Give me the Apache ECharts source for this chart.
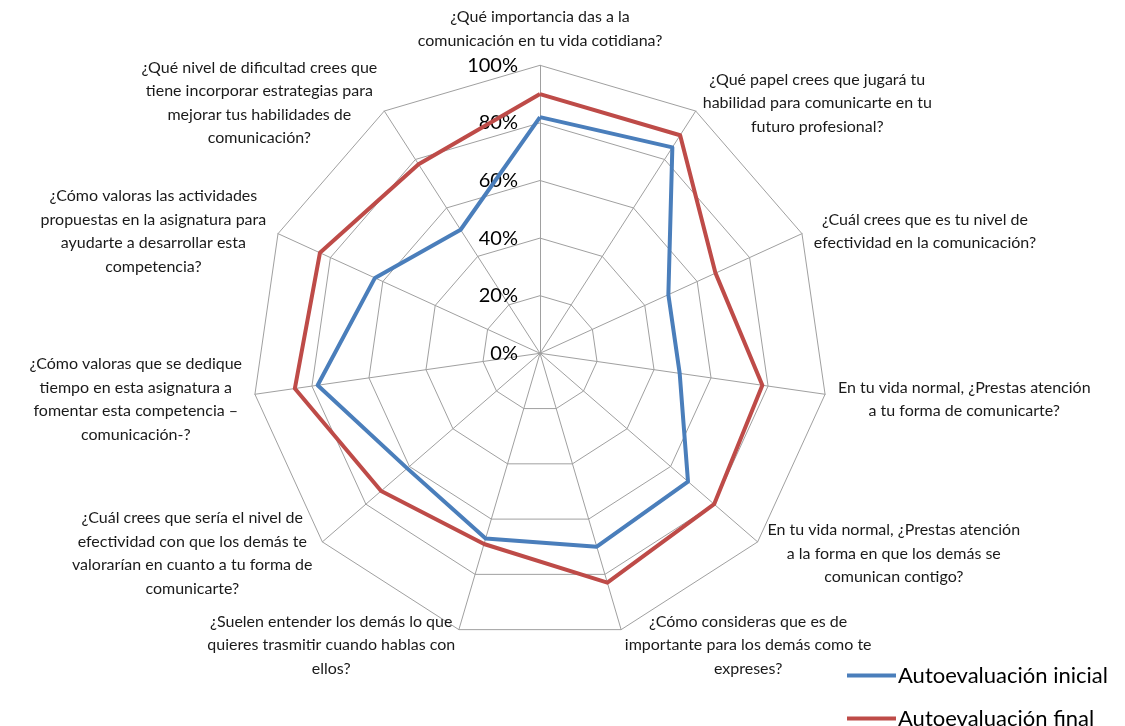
<!DOCTYPE html>
<html>
<head>
<meta charset="utf-8">
<script src="https://cdn.jsdelivr.net/npm/echarts@6/dist/echarts.min.js"></script>
<style>
html,body{margin:0;padding:0;background:#fff;}
#chart{width:1125px;height:726px;}
</style>
</head>
<body>
<div id="chart"></div>
<script>
// Categories in clockwise order starting from the top
const categories = [
  "¿Qué importancia das a la\ncomunicación en tu vida cotidiana?",
  "¿Qué papel crees que jugará tu\nhabilidad para comunicarte en tu\nfuturo profesional?",
  "¿Cuál crees que es tu nivel de\nefectividad en la comunicación?",
  "En tu vida normal, ¿Prestas atención\na tu forma de comunicarte?",
  "En tu vida normal, ¿Prestas atención\na la forma en que los demás se\ncomunican contigo?",
  "¿Cómo consideras que es de\nimportante para los demás como te\nexpreses?",
  "¿Suelen entender los demás lo que\nquieres trasmitir cuando hablas con\nellos?",
  "¿Cuál crees que sería el nivel de\nefectividad con que los demás te\nvalorarían en cuanto a tu forma de\ncomunicarte?",
  "¿Cómo valoras que se dedique\ntiempo en esta asignatura a\nfomentar esta competencia –\ncomunicación-?",
  "¿Cómo valoras las actividades\npropuestas en la asignatura para\nayudarte a desarrollar esta\ncompetencia?",
  "¿Qué nivel de dificultad crees que\ntiene incorporar estrategias para\nmejorar tus habilidades de\ncomunicación?"
];
const seriesNames = ["Autoevaluación inicial", "Autoevaluación final"];
const inicial = [0.82, 0.85, 0.49, 0.49, 0.68, 0.70, 0.67, 0.61, 0.78, 0.63, 0.51];
const final_ = [0.90, 0.90, 0.67, 0.78, 0.80, 0.83, 0.69, 0.73, 0.86, 0.84, 0.78];
const tickValues = [0, 0.2, 0.4, 0.6, 0.8, 1.0];

// ECharts radar places indicators counter-clockwise; reorder to draw clockwise
function cw(arr) { return [arr[0]].concat(arr.slice(1).reverse()); }

const FONT = 'Lato';
const chart = echarts.init(document.getElementById('chart'), null, {renderer: 'canvas'});
const option = {
  animation: false,
  backgroundColor: '#fff',
  textStyle: {fontFamily: FONT},
  legend: {
    orient: 'vertical',
    left: 847,
    top: 663,
    height: 100,
    padding: 0,
    itemWidth: 49,
    itemHeight: 4,
    itemGap: 18,
    icon: 'rect',
    data: seriesNames,
    textStyle: {fontFamily: FONT, fontSize: 22, color: '#000', lineHeight: 25, padding: [0,0,0,-3]}
  },
  grid: {left: 526, top: 65.3, width: 10, height: 288, containLabel: false},
  xAxis: {type: 'value', show: false},
  yAxis: {
    type: 'value', min: tickValues[0], max: tickValues[tickValues.length - 1], interval: 0.2,
    axisLine: {show: false}, axisTick: {show: false}, splitLine: {show: false},
    axisLabel: {
      margin: 8, fontSize: 20, color: '#000', fontFamily: FONT,
      formatter: v => Math.round(v * 100) + '%'
    }
  },
  radar: {
    center: [540, 353.3],
    radius: 288,
    startAngle: 90,
    splitNumber: 5,
    shape: 'polygon',
    indicator: cw(categories).map(n => ({name: n, min: 0, max: 1})),
    nameGap: 13,
    axisName: {
      color: '#1a1a1a',
      fontFamily: FONT,
      fontSize: 16,
      padding: [6, 0, 0, 0],
      formatter: function (name) {
        return name.split('\n').map(l => '{c|' + l + '}').join('\n');
      },
      rich: {c: {align: 'center', fontSize: 16, lineHeight: 23.5, color: '#1a1a1a', fontFamily: FONT}}
    },
    splitArea: {show: false},
    splitLine: {lineStyle: {color: '#a0a0a0', width: 1}},
    axisLine: {lineStyle: {color: '#a0a0a0', width: 1}},
    axisTick: {show: false},
    axisLabel: {show: false}
  },
  series: [{
    type: 'radar',
    symbol: 'none',
    data: [
      {name: seriesNames[0], value: cw(inicial), lineStyle: {color: '#4A7EBB', width: 4}, itemStyle: {color: '#4A7EBB'}},
      {name: seriesNames[1], value: cw(final_), lineStyle: {color: '#BE4B48', width: 4}, itemStyle: {color: '#BE4B48'}}
    ]
  }]
};
chart.setOption(option);
</script>
</body>
</html>
